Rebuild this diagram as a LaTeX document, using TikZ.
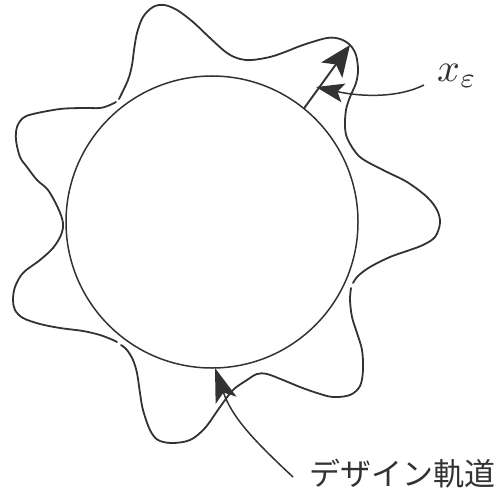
\documentclass[tikz,border=0pt]{standalone}
\usepackage{fontspec}
\newfontfamily\jpfont{Noto Sans CJK JP}
\usetikzlibrary{arrows.meta}
\definecolor{ink}{RGB}{50,50,50}
\begin{document}
\begin{tikzpicture}[x=1pt,y=-1pt,
  wave/.style={draw=ink, line width=1.8pt, line join=round, line cap=round},
  design/.style={draw=ink, line width=1.5pt},
  vec/.style={draw=ink, line width=1.9pt, -{Stealth[length=31pt,width=26pt,inset=7pt]}},
  leader/.style={draw=ink, line width=1.5pt},
  lbl/.style={inner sep=0pt, text=ink}]
\useasboundingbox (0,0) rectangle (497,492);
% design orbit (circle)
\node[design, circle, minimum size=292pt, inner sep=0pt, outer sep=0pt] (C) at (212,222) {};
% perturbed orbit
\draw[wave] plot[smooth, tension=0.55] coordinates {
 (119,99) (128,80) (132,65) (134,50) (137,33) (143,17) (153,7) (164,5) (177,10)
 (193,22) (210,38) (227,53) (240,59) (252,60) (270,57) (285,52) (303,45) (327,38)
 (340,39) (350,45) (356,55) (358,70) (356,83) (350,97) (346,110) (345,127) (348,140)
 (360,157) (383,170) (407,182) (427,197) (437,210) (440,223) (435,237) (423,245)
 (407,251) (390,257) (370,267) (358,276) (353,283)};
\draw[wave] plot[smooth, tension=0.55] coordinates {
 (351,288) (350,300) (352,317) (357,333) (362,350) (363,370) (360,386) (350,395)
 (333,397) (317,393) (300,387) (283,380) (267,374) (257,374) (247,380) (233,390)
 (220,407) (205,428) (190,440) (172,443) (158,440) (150,430) (143,410) (140,393)
 (137,373) (133,360) (127,350) (121,345)};
\draw[wave] plot[smooth, tension=0.55] coordinates {
 (117,342) (113,340) (100,335) (83,331) (60,328) (40,324) (23,318) (15,310) (13,300)
 (15,287) (23,273) (40,260) (53,248) (61,235) (63,223) (58,208) (48,190) (37,180)
 (27,167) (20,157) (16,140) (17,127) (23,118) (33,114) (60,109) (83,108) (100,108)
 (110,105) (116,102)};
% displacement vector
\coordinate (tipA) at (350,45);
\draw[vec] (C.51) -- (tipA);
% labels
\node[lbl, anchor=base west] (xe) at (437,82) {\scalebox{4}{$x_\varepsilon$}};
\node[lbl, anchor=base west] (jp) at (309,485) {\fontsize{31}{31}\selectfont\jpfont デザイン軌道};
% leaders
\coordinate (x0) at (424,85);
\coordinate (x1) at (316,87);
\draw[leader, -{Stealth[length=28pt,width=19pt,inset=6pt]}] (x0) .. controls (398,98) and (362,97) .. (x1);
\coordinate (d0) at (293,477);
\coordinate (d1) at (215,368);
\draw[leader, -{Stealth[length=34pt,width=22pt,inset=8pt]}] (d0) to[out=137, in=-71] (d1);
\end{tikzpicture}
\end{document}
